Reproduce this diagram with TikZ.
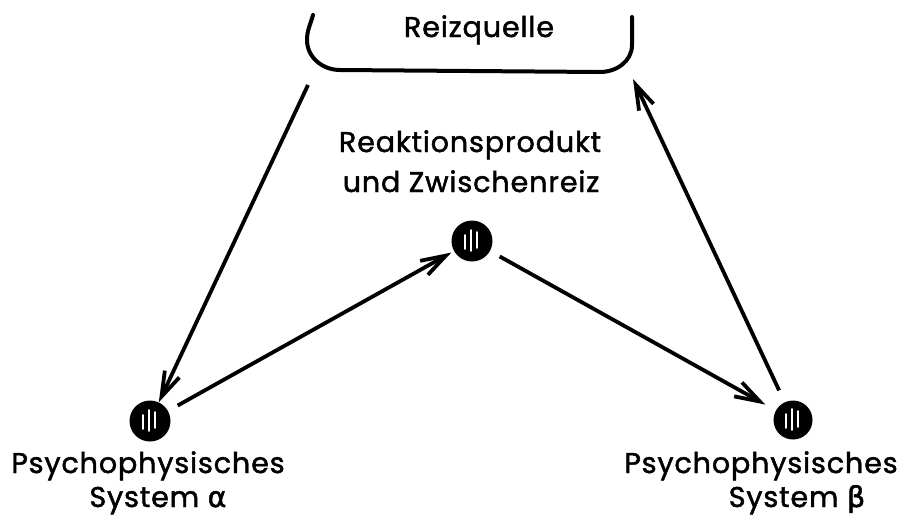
\documentclass[tikz,border=0pt]{standalone}
\usepackage{fontspec}
\setmainfont{Poppins}[LetterSpace=3, FakeBold=1.6]
\newfontfamily\grk{DejaVu Sans}[FakeBold=1.8]
\usetikzlibrary{arrows.meta}
\begin{document}
\begin{tikzpicture}[x=1pt,y=-1pt,
  lab/.style={font=\fontsize{28.6}{33}\selectfont, anchor=base, inner sep=0pt},
  dot/.style={circle, fill=black, minimum size=41pt, inner sep=0pt},
  conn/.style={line width=3.8pt, -{Straight Barb[length=25pt,width=16pt,line width=3.8pt]}},
  bracketline/.style={line width=4pt, line cap=round}
  ]
\useasboundingbox (0,0) rectangle (909,531);
% source bracket
\draw[bracketline] (313,15) to[out=255,in=90] (307,40) to[out=-90,in=180] (340,70) -- (600,72) to[out=0,in=-90] (632,45) -- (632,17);
\node[lab] (src) at (479,37) {Reizquelle};
\coordinate (srcL) at (308,85);
\coordinate (srcR) at (633,79);
% dots
\node[dot] (a) at (150,421) {};
\node[dot] (m) at (472,241) {};
\node[dot, minimum size=39pt] (b) at (793,420) {};
\foreach \n in {a,m,b}{
  \draw[white, line width=1.7pt, line cap=round] ([shift={(-7,-6)}]\n.center) -- ([shift={(-7,8)}]\n.center);
  \draw[white, line width=1.7pt, line cap=round] ([shift={(-1,-11)}]\n.center) -- ([shift={(-1,10)}]\n.center);
  \draw[white, line width=1.7pt, line cap=round] ([shift={(5,-9)}]\n.center) -- ([shift={(5,7)}]\n.center);
}
% labels
\node[lab] (r1) at (470,152) {Reaktionsprodukt};
\node[lab] (r2) at (471,192) {und Zwischenreiz};
\node[lab] (a1) at (148,473) {Psychophysisches};
\node[lab] (a2) at (158,507) {System {\grk α}};
\node[lab] (b1) at (761,473) {Psychophysisches};
\node[lab] (b2) at (797,507) {System {\grk β}};
% connectors
\draw[conn] (srcL) -- (a);
\draw[conn, shorten <=11pt, shorten >=3pt] (a) -- (m);
\draw[conn, shorten <=11pt, shorten >=12pt] (m) -- (b);
\draw[conn, shorten <=13pt] (b) -- (srcR);
\end{tikzpicture}
\end{document}
